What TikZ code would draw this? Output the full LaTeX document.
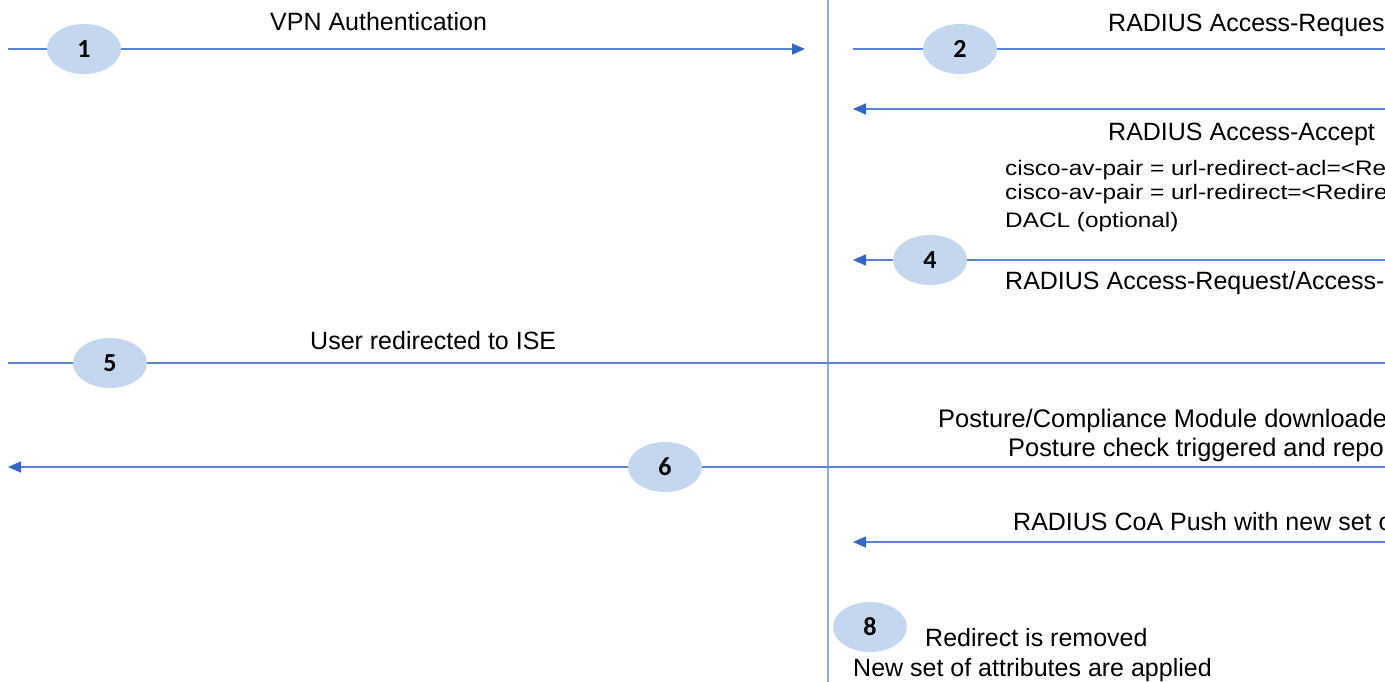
\documentclass[tikz,border=0pt]{standalone}
\usepackage{fontspec}
\setmainfont{Liberation Sans}
\newfontfamily\numfont{Carlito}
\newfontfamily\avfont{Liberation Sans}[FakeStretch=1.16]
\usetikzlibrary{arrows.meta,shapes.geometric}
\definecolor{flowline}{RGB}{92,132,212}
\definecolor{flowtip}{RGB}{52,102,200}
\definecolor{divider}{RGB}{140,172,226}
\definecolor{stepfill}{RGB}{197,215,239}
\tikzset{
	msg/.style={draw=flowline,line width=1.6pt},
	msgto/.style={msg,-{Triangle[length=13pt,width=11pt,color=flowtip]}},
	stepnum/.style={ellipse,fill=stepfill,minimum width=74pt,minimum height=50pt,inner sep=0pt,
		font=\numfont\bfseries\fontsize{26}{26}\selectfont},
	lbl/.style={inner sep=0pt,anchor=base west,font=\fontsize{25}{30}\selectfont},
	avlbl/.style={inner sep=0pt,anchor=base west,font=\avfont\fontsize{21}{24}\selectfont}
}
\begin{document}
\begin{tikzpicture}[x=1pt,y=-1pt]
			\useasboundingbox (0,0) rectangle (1385,682);
			\coordinate (top) at (828,0);
			\coordinate (bot) at (828,682);
			\draw[divider,line width=1.8pt] (top) -- (bot);
			\coordinate (a1) at (8,49);
			\coordinate (b1) at (805,49);
			\coordinate (a2) at (853,49);
			\coordinate (b2) at (1385,49);
			\coordinate (a3) at (853,109);
			\coordinate (b3) at (1385,109);
			\coordinate (a4) at (853,260);
			\coordinate (b4) at (1385,260);
			\coordinate (a5) at (8,363);
			\coordinate (b5) at (1385,363);
			\coordinate (a6) at (8,467);
			\coordinate (b6) at (1385,467);
			\coordinate (a7) at (853,542);
			\coordinate (b7) at (1385,542);
			\node[stepnum] (s1) at (84,49) {1};
			\node[stepnum] (s2) at (960,49) {2};
			\node[stepnum] (s4) at (930,260) {4};
			\node[stepnum] (s5) at (110,363) {5};
			\node[stepnum] (s6) at (665,467) {6};
			\node[stepnum] (s8) at (870,627) {8};
			\draw[msg] (a1) -- (s1);
			\draw[msgto] (s1) -- (b1);
			\draw[msg] (a2) -- (s2) -- (b2);
			\draw[msgto] (b3) -- (a3);
			\draw[msg] (b4) -- (s4);
			\draw[msgto] (s4) -- (a4);
			\draw[msg] (a5) -- (s5) -- (b5);
			\draw[msg] (b6) -- (s6);
			\draw[msgto] (s6) -- (a6);
			\draw[msgto] (b7) -- (a7);
			\node[lbl] (t1) at (270,31) {VPN Authentication};
			\node[lbl] (t2) at (1108,32) {RADIUS Access-Reques};
			\node[lbl] (t3) at (1108,141) {RADIUS Access-Accept};
			\node[avlbl] (t3a) at (1005,176) {cisco-av-pair = url-redirect-acl=<Re};
			\node[avlbl] (t3b) at (1005,200) {cisco-av-pair = url-redirect=<Redire};
			\node[avlbl] (t3c) at (1005,227) {DACL (optional)};
			\node[lbl] (t4) at (1005,289) {RADIUS Access-Request/Access-};
			\node[lbl] (t5) at (310,349) {User redirected to ISE};
			\node[lbl,font=\fontsize{25.4}{30}\selectfont] (t6a) at (938,427) {Posture/Compliance Module downloade};
			\node[lbl,font=\fontsize{25.4}{30}\selectfont] (t6b) at (1008,456) {Posture check triggered and repo};
			\node[lbl] (t7) at (1013,530) {RADIUS CoA Push with new set o};
			\node[lbl] (t8a) at (925,646) {Redirect is removed};
			\node[lbl] (t8b) at (853,676) {New set of attributes are applied};
		\end{tikzpicture}
\end{document}
